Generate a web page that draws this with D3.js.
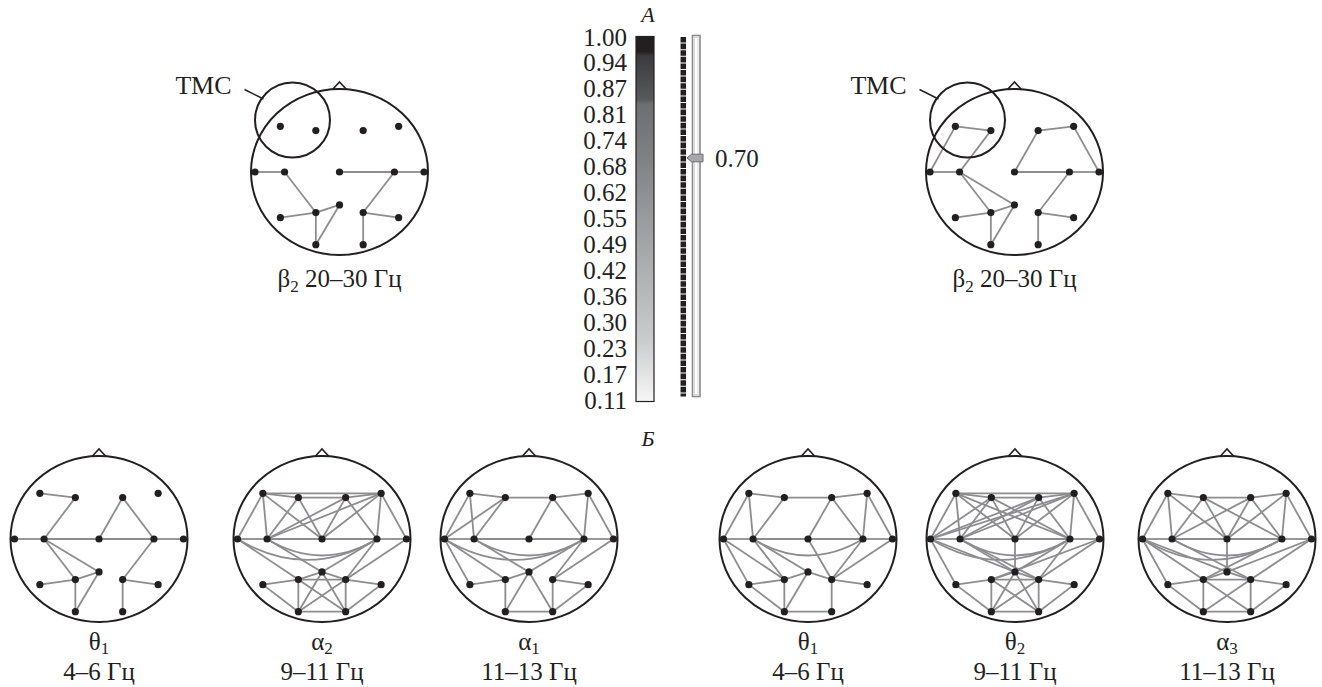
<!DOCTYPE html>
<html>
<head>
<meta charset="utf-8">
<script src="https://cdn.jsdelivr.net/npm/d3@7"></script>
<style>
  body { margin: 0; background: #fff; }
  svg { display: block; }
  text { font-family: "Liberation Serif", "DejaVu Serif", serif; fill: #231f20; }
</style>
</head>
<body>
<svg width="1322" height="687"></svg>
<script>
// electrode montage, normalized so that T3 = -1 and T4 = +1
const electrodes = [
  {id: 'F7', x: -0.70, y: -0.54}, {id: 'F3', x: -0.28, y: -0.49},
  {id: 'F4', x: 0.28, y: -0.49}, {id: 'F8', x: 0.70, y: -0.54},
  {id: 'T3', x: -1.00, y: 0}, {id: 'C3', x: -0.65, y: 0}, {id: 'Cz', x: 0, y: 0},
  {id: 'C4', x: 0.65, y: 0}, {id: 'T4', x: 1.00, y: 0},
  {id: 'T5', x: -0.70, y: 0.54}, {id: 'P3', x: -0.28, y: 0.48}, {id: 'Pz', x: 0, y: 0.39},
  {id: 'P4', x: 0.28, y: 0.48}, {id: 'T6', x: 0.70, y: 0.54},
  {id: 'O1', x: -0.28, y: 0.86}, {id: 'O2', x: 0.28, y: 0.86},
];

// colour scale ticks (coherence), evenly spaced on the bar
const scaleTicks = [1.00, 0.94, 0.87, 0.81, 0.74, 0.68, 0.62, 0.55, 0.49, 0.42, 0.36, 0.30, 0.23, 0.17, 0.11];
const threshold = 0.70;
const scaleStops = [
  [1.00, '#231f20'], [0.965, '#231f20'], [0.955, '#3b3b3d'], [0.845, '#58595b'],
  [0.835, '#6d6e71'], [0.70, '#808184'], [0.55, '#9a9b9e'], [0.40, '#b2b3b5'],
  [0.25, '#cbcccd'], [0.11, '#f7f7f7'],
];

// titles: band letter, index, frequency range
const mapTitles = [
  ['β', '2', ' 20–30 Гц'], ['β', '2', ' 20–30 Гц'],
  ['θ', '1', '4–6 Гц'], ['α', '2', '9–11 Гц'], ['α', '1', '11–13 Гц'],
  ['θ', '1', '4–6 Гц'], ['θ', '2', '9–11 Гц'], ['α', '3', '11–13 Гц'],
];
// connections above threshold, per map
const linksBeta2A = ['T3-C3', 'C3-P3', 'Cz-C4', 'C4-T4', 'C4-P4', 'T5-P3', 'P3-Pz', 'P3-O1', 'Pz-O1', 'P4-T6', 'P4-O2'];
const linksBeta2B = ['F7-F3', 'F7-T3', 'F3-C3', 'T3-C3', 'C3-P3', 'C3-Pz', 'T5-P3', 'P3-Pz', 'P3-O1', 'Pz-O1',
  'F4-F8', 'F4-Cz', 'F8-T4', 'Cz-C4', 'C4-T4', 'C4-P4', 'P4-T6', 'P4-O2'];
const linksTheta1A = ['F7-F3', 'F3-C3', 'F4-Cz', 'F4-C4', 'T3-C3', 'C3-Cz', 'Cz-C4', 'C4-T4', 'C3-Pz', 'C3-P3',
  'T5-P3', 'P3-Pz', 'P3-O1', 'Pz-O1', 'C4-P4', 'P4-T6', 'P4-O2'];
const linksAlpha2A = ['F7-F8', 'F7-F3', 'F3-F4', 'F4-F8', 'F7-T3', 'F7-C3', 'F7-Cz', 'F3-C3', 'F3-Cz', 'C3-F4',
  'C3-F8', 'F4-Cz', 'F4-C4', 'F8-Cz', 'F8-C4', 'F8-T4', 'T3-C3', 'C3-Cz', 'Cz-C4', 'C4-T4', 'T3-P3', 'C3-Pz',
  'C4-Pz', 'C4-P4', 'T4-P4', 'T5-P3', 'T5-O1', 'P3-Pz', 'Pz-P4', 'P3-P4', 'P4-T6', 'T6-O2', 'P3-O1', 'P4-O2',
  'O1-O2', 'P3-O2', 'P4-O1', 'Pz-O1', 'Pz-O2'];
const linksAlpha1A = ['F7-F3', 'F3-F4', 'F4-F8', 'F7-T3', 'F7-C3', 'F3-T3', 'F3-C3', 'F4-Cz', 'F4-C4', 'F8-C4',
  'F8-T4', 'T3-C3', 'C3-Cz', 'Cz-C4', 'C4-T4', 'T3-T5', 'T3-P3', 'C3-Pz', 'C4-Pz', 'C4-P4', 'T4-P4', 'T5-P3',
  'P3-O1', 'Pz-O1', 'Pz-O2', 'P4-O2', 'O1-O2', 'P4-T6', 'T6-O2', 'P3-Pz'];
const linksTheta1B = ['F7-F3', 'F3-F4', 'F4-F8', 'F7-T3', 'F7-C3', 'F3-C3', 'F4-Cz', 'F4-C4', 'F8-C4', 'F8-T4',
  'T3-C3', 'C3-Cz', 'Cz-C4', 'C4-T4', 'T3-T5', 'T3-P3', 'C3-P3', 'C3-Pz', 'Cz-P4', 'C4-P4', 'T4-P4', 'T5-P3',
  'T5-O1', 'P3-Pz', 'P3-O1', 'Pz-O1', 'Pz-P4', 'P4-O2', 'O1-O2', 'P4-T6'];
const linksTheta2B = ['F7-F8', 'F7-F3', 'F3-F4', 'F4-F8', 'F7-T3', 'F7-C3', 'F7-Cz', 'F7-C4', 'F3-T3', 'F3-C3',
  'F3-Cz', 'F3-C4', 'F4-T3', 'F4-C3', 'F4-Cz', 'F4-C4', 'F8-T3', 'F8-C3', 'F8-Cz', 'F8-C4', 'F8-T4', 'T3-C3',
  'C3-Cz', 'Cz-C4', 'C4-T4', 'Cz-Pz', 'T3-T5', 'T3-Pz', 'C3-Pz', 'C3-P4', 'T4-P3', 'C4-Pz', 'C4-P4', 'T4-P4',
  'T5-P3', 'T5-O1', 'P3-Pz', 'Pz-P4', 'P3-P4', 'P4-T6', 'T6-O2', 'P3-O1', 'P4-O2', 'O1-O2', 'P3-O2', 'P4-O1',
  'Pz-O1', 'Pz-O2'];
const linksAlpha3B = ['F7-F3', 'F3-F4', 'F4-F8', 'F7-T3', 'F7-C3', 'F7-Cz', 'F3-C3', 'F3-Cz', 'F3-C4', 'F4-C3',
  'F4-Cz', 'F4-C4', 'F8-Cz', 'F8-C4', 'F8-T4', 'T3-C3', 'C3-Cz', 'Cz-C4', 'C4-T4', 'Cz-Pz', 'T3-T5', 'T3-P3',
  'T3-Pz', 'C3-P4', 'T4-Pz', 'C4-P3', 'T4-P4', 'T5-P3', 'T5-O1', 'P3-Pz', 'Pz-P4', 'P3-P4', 'P4-T6', 'T6-O2',
  'P3-O1', 'P4-O2', 'O1-O2', 'P3-O2', 'P4-O1'];
// long-range links drawn as arcs
const arcsByMap = [[], [], [], ['C3-C4', 'T3-C4'], ['C3-C4', 'T3-C4'], ['C3-C4'], ['C3-C4', 'T3-C4'], ['C3-C4', 'T3-C4']];
const linksByMap = [linksBeta2A, linksBeta2B, linksTheta1A, linksAlpha2A, linksAlpha1A, linksTheta1B, linksTheta2B, linksAlpha3B];

// layout of the panels (page pixels)
const panels = [
  {cx: 339.5, cy: 172, top: true, tms: true},
  {cx: 1014.5, cy: 172, top: true, tms: true},
  {cx: 99, cy: 539}, {cx: 322, cy: 539}, {cx: 529, cy: 539},
  {cx: 808, cy: 539}, {cx: 1015, cy: 539}, {cx: 1227, cy: 539},
];

const svg = d3.select('svg');
const byId = new Map(electrodes.map(e => [e.id, e]));
const HALF = 84.5;
const LINK = '#8d8d8f';
const INK = '#231f20';
const FS = 25;

function drawMap(p, i) {
  const x = d3.scaleLinear().domain([-1, 1]).range([p.cx - HALF, p.cx + HALF]);
  const y = d3.scaleLinear().domain([-1, 1]).range([p.cy - HALF, p.cy + HALF]);
  const rx = 88.5;
  const ry = 83;
  const g = svg.append('g').attr('class', 'map');

  // head outline and nose
  g.append('path')
    .attr('d', `M${p.cx - 7},${p.cy - ry + 0.5} L${p.cx},${p.cy - ry - 7} L${p.cx + 7},${p.cy - ry + 0.5}`)
    .attr('fill', 'none').attr('stroke', INK).attr('stroke-width', 1.6);
  g.append('ellipse')
    .attr('cx', p.cx).attr('cy', p.cy).attr('rx', rx).attr('ry', ry)
    .attr('fill', 'none').attr('stroke', INK).attr('stroke-width', 2);

  const pairs = linksByMap[i].map(s => s.split('-').map(k => byId.get(k)));
  g.selectAll('line.link')
    .data(pairs)
    .enter()
    .append('line')
    .attr('class', 'link')
    .attr('x1', d => x(d[0].x)).attr('y1', d => y(d[0].y))
    .attr('x2', d => x(d[1].x)).attr('y2', d => y(d[1].y))
    .attr('stroke', LINK).attr('stroke-width', 1.8);

  const arcs = arcsByMap[i].map(s => s.split('-').map(k => byId.get(k)));
  g.selectAll('path.arc')
    .data(arcs)
    .enter()
    .append('path')
    .attr('class', 'arc')
    .attr('d', (d) => {
      const x1 = x(d[0].x), x2 = x(d[1].x), y1 = y(d[0].y);
      const sag = (x2 - x1) * 0.3;
      return `M${x1},${y1} Q${(x1 + x2) / 2},${y1 + sag} ${x2},${y1}`;
    })
    .attr('fill', 'none').attr('stroke', LINK).attr('stroke-width', 1.8);

  g.selectAll('circle.electrode')
    .data(electrodes)
    .enter()
    .append('circle')
    .attr('class', 'electrode')
    .attr('cx', d => x(d.x)).attr('cy', d => y(d.y))
    .attr('r', 3.6)
    .attr('fill', INK);

  // TMS spot
  if (p.tms) {
    g.append('circle')
      .attr('cx', p.cx - 47).attr('cy', p.cy - 52).attr('r', 37.5)
      .attr('fill', 'none').attr('stroke', INK).attr('stroke-width', 2);
    g.append('line')
      .attr('x1', p.cx - 95).attr('y1', 89.5).attr('x2', p.cx - 76).attr('y2', 99)
      .attr('stroke', INK).attr('stroke-width', 1.5);
    g.append('text')
      .attr('x', p.cx - 108).attr('y', 94)
      .attr('text-anchor', 'end').attr('font-size', 26)
      .text('ТМС');
  }

  // band title
  const t = mapTitles[i];
  if (p.top) {
    const txt = g.append('text').attr('x', p.cx).attr('y', 287)
      .attr('text-anchor', 'middle').attr('font-size', FS);
    txt.append('tspan').text(t[0]);
    txt.append('tspan').attr('dy', 5).attr('font-size', 17).text(t[1]);
    txt.append('tspan').attr('dy', -5).text(t[2]);
  } else {
    const txt = g.append('text').attr('x', p.cx).attr('y', 650)
      .attr('text-anchor', 'middle').attr('font-size', FS);
    txt.append('tspan').text(t[0]);
    txt.append('tspan').attr('dy', 4).attr('font-size', 17).text(t[1]);
    g.append('text').attr('x', p.cx).attr('y', 680)
      .attr('text-anchor', 'middle').attr('font-size', FS)
      .text(t[2]);
  }
}

panels.forEach(drawMap);

// colour scale with threshold slider; tick labels sit at equal steps
const TOP = 37;
const BOT = 400;
const tickPos = d3.scalePoint().domain(scaleTicks).range([TOP, BOT]);
const vy = d3.scaleLinear().domain(scaleTicks).range(scaleTicks.map(v => tickPos(v)));

const defs = svg.append('defs');
const grad = defs.append('linearGradient')
  .attr('id', 'cohGrad').attr('x1', 0).attr('x2', 0).attr('y1', 0).attr('y2', 1);
grad.selectAll('stop')
  .data(scaleStops)
  .enter()
  .append('stop')
  .attr('offset', d => (vy(d[0]) - TOP) / (BOT - TOP))
  .attr('stop-color', d => d[1]);

svg.append('rect')
  .attr('x', 636).attr('y', TOP - 0.5).attr('width', 18).attr('height', BOT - TOP + 2)
  .attr('fill', 'url(#cohGrad)').attr('stroke', INK).attr('stroke-width', 1.2);

const axis = d3.axisLeft(tickPos).tickFormat(d3.format('.2f')).tickSize(0).tickPadding(9);
const ax = svg.append('g').attr('transform', 'translate(636,0)').call(axis);
ax.select('.domain').remove();
ax.selectAll('text')
  .attr('font-size', FS)
  .attr('font-family', '"Liberation Serif", serif')
  .attr('fill', INK);

svg.append('text').attr('x', 648).attr('y', 22)
  .attr('text-anchor', 'middle').attr('font-size', 22).attr('font-style', 'italic').text('А');
svg.append('text').attr('x', 648).attr('y', 446)
  .attr('text-anchor', 'middle').attr('font-size', 22).attr('font-style', 'italic').text('Б');

// dashed bar
svg.append('line')
  .attr('x1', 683.3).attr('x2', 683.3).attr('y1', TOP).attr('y2', BOT - 3.5)
  .attr('stroke', INK).attr('stroke-width', 5.5).attr('stroke-dasharray', '5.6,1');

// slider track
svg.append('rect')
  .attr('x', 692.5).attr('y', TOP - 1.5).attr('width', 7.5).attr('height', BOT - TOP - 2)
  .attr('fill', '#fff').attr('stroke', '#8a8a8c').attr('stroke-width', 1.6);
svg.append('rect')
  .attr('x', 694.5).attr('y', TOP + 0.5).attr('width', 3.5).attr('height', BOT - TOP - 6)
  .attr('fill', '#fff').attr('stroke', '#d8d8d8').attr('stroke-width', 1);

// threshold thumb
const ty = vy(threshold);
svg.append('path')
  .attr('d', `M687,${ty} L691.5,${ty - 3.8} L703,${ty - 3.8} L703,${ty + 3.8} L691.5,${ty + 3.8} Z`)
  .attr('fill', '#a7a8aa').attr('stroke', '#6d6e71').attr('stroke-width', 1);
svg.append('text').attr('x', 715).attr('y', ty + 8.5)
  .attr('font-size', FS).text(d3.format('.2f')(threshold));
</script>
</body>
</html>
